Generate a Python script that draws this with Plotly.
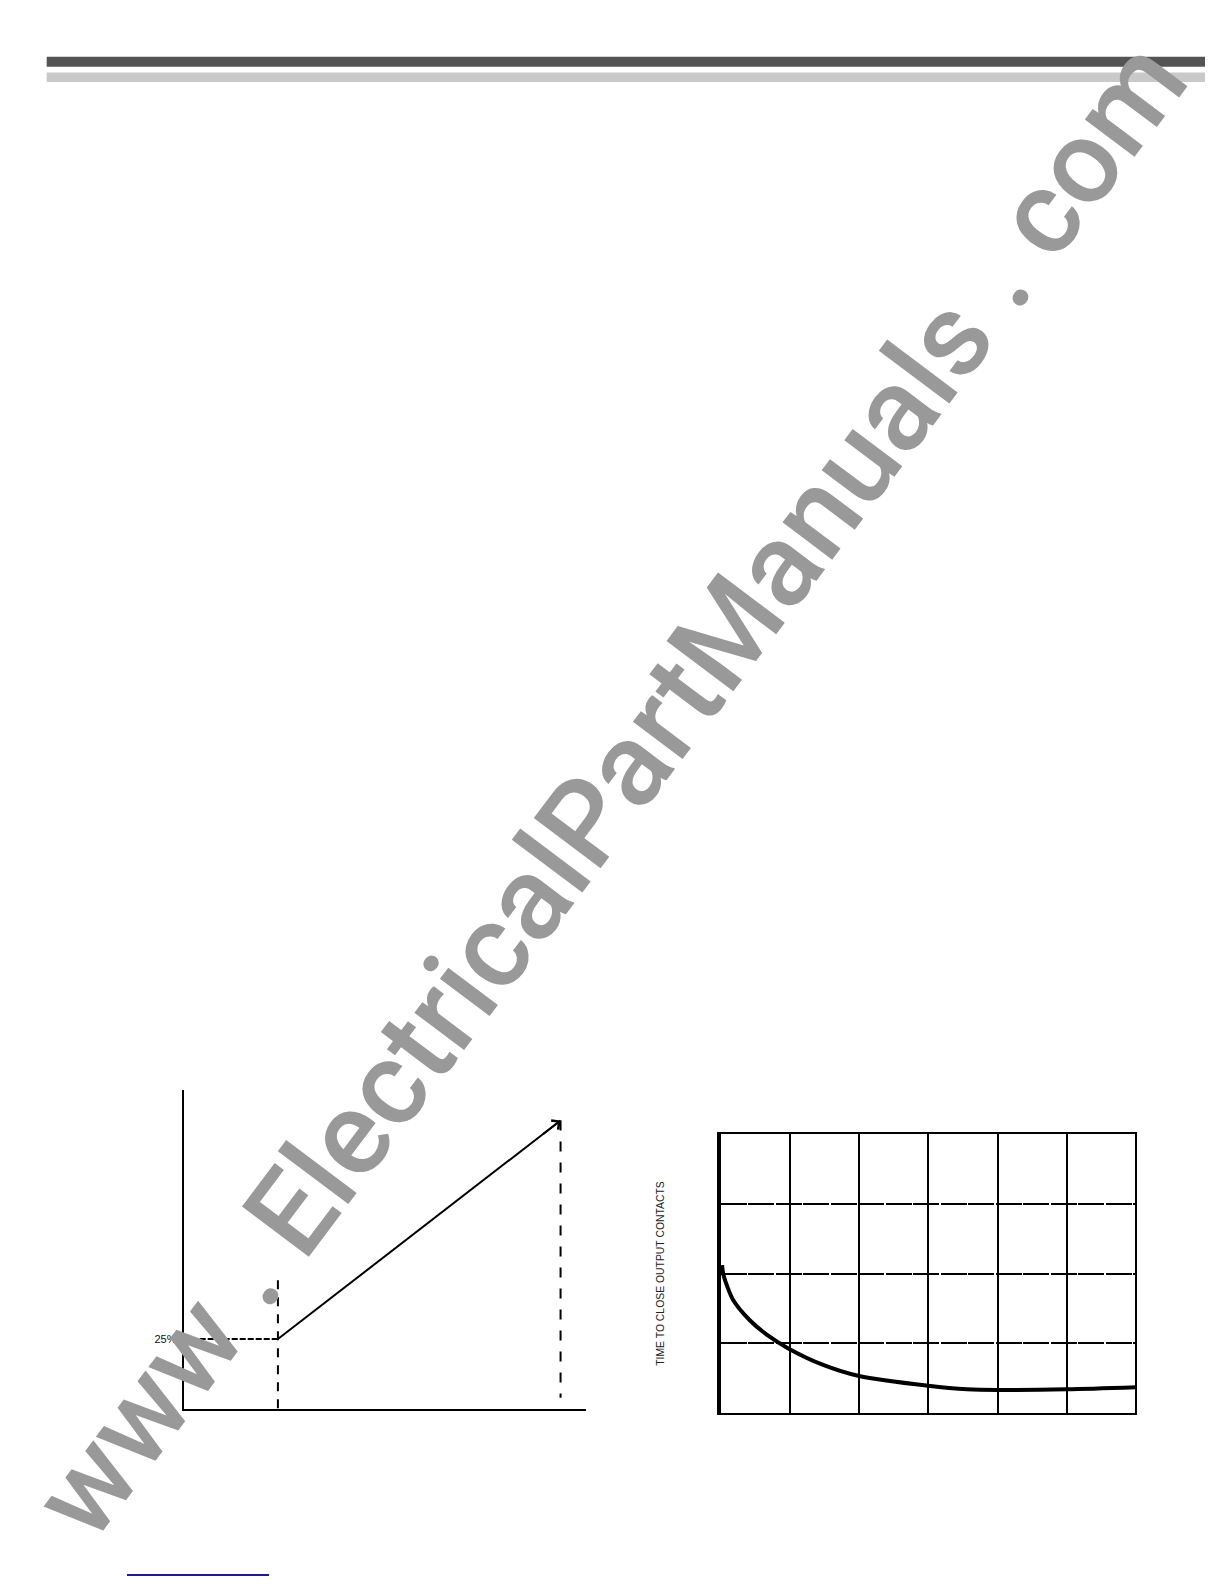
import plotly.graph_objects as go

# ---------------- data ----------------
# Left chart: pickup characteristic (x in multiples of pickup, y in %)
flat_x = [0, 1]
flat_y = [25, 25]
rise_x = [1, 4]
rise_y = [25, 103]
pickup_line_x = [1, 1]
pickup_line_y = [46, 0]
max_line_x = [4, 4]
max_line_y = [103, 4]
left_tick_vals = [25]
left_tick_text = ["25%"]

# Right chart: time to close output contacts (grid units)
curve_x = [0.02, 0.04, 0.18, 0.42, 0.67, 0.97, 1.48, 2.0, 3.0, 3.56, 4.0, 5.0, 6.0]
curve_y = [2.12, 1.98, 1.62, 1.33, 1.12, 0.93, 0.69, 0.53, 0.39, 0.34, 0.33, 0.34, 0.37]
right_y_title = "TIME TO CLOSE OUTPUT CONTACTS"

watermark_text = "www . ElectricalPartManuals . com"

# ---------------- page geometry ----------------
# the html body has an 8px margin, so the figure is drawn 8px in from the page corner
OFF = 8
W, H = 1224 - 2 * OFF, 1584 - 2 * OFF


def px(x):
    return (x - OFF) / W


def py(y):
    return 1 - (y - OFF) / H


fig = go.Figure()

# left chart traces
fig.add_trace(go.Scatter(x=flat_x, y=flat_y, mode="lines",
                         line=dict(color="black", width=2, dash="6px,2px"),
                         xaxis="x", yaxis="y", hoverinfo="skip"))
fig.add_trace(go.Scatter(x=rise_x, y=rise_y, mode="lines",
                         line=dict(color="black", width=2),
                         xaxis="x", yaxis="y", hoverinfo="skip"))
fig.add_trace(go.Scatter(x=pickup_line_x, y=pickup_line_y, mode="lines",
                         line=dict(color="black", width=2, dash="9px,8px"),
                         xaxis="x", yaxis="y", hoverinfo="skip"))
fig.add_trace(go.Scatter(x=max_line_x, y=max_line_y, mode="lines",
                         line=dict(color="black", width=2, dash="10px,11px"),
                         xaxis="x", yaxis="y", hoverinfo="skip"))

# right chart curve
fig.add_trace(go.Scatter(x=curve_x, y=curve_y, mode="lines",
                         line=dict(color="black", width=4, shape="spline", smoothing=0.8),
                         xaxis="x2", yaxis="y2", hoverinfo="skip"))

# arrowhead at end of rising line
fig.add_annotation(x=rise_x[-1], y=rise_y[-1], xref="x", yref="y",
                   ax=rise_x[-1] - 0.2,
                   ay=rise_y[-1] - 0.2 * (rise_y[-1] - rise_y[0]) / (rise_x[-1] - rise_x[0]),
                   axref="x", ayref="y", text="", showarrow=True,
                   arrowhead=4, arrowsize=1.1, arrowwidth=2, arrowcolor="black",
                   standoff=0, startstandoff=0)

font_family = "Liberation Sans, Arial, Helvetica, sans-serif"

# right chart: 6 x 4 grid, 69.22 px per column; range a hair past 6 so the last gridline shows
x2_max = 6.02
col_px = (1136 - 720.7) / 6

fig.update_layout(
    width=W, height=H,
    margin=dict(l=0, r=0, t=0, b=0),
    paper_bgcolor="white", plot_bgcolor="rgba(0,0,0,0)",
    showlegend=False,
    font=dict(family=font_family, color="black"),
    xaxis=dict(domain=[px(183.7), px(586)], range=[0, 4.27],
               showline=True, linecolor="black", linewidth=2,
               showgrid=False, zeroline=False, showticklabels=False, ticks="",
               fixedrange=True),
    yaxis=dict(domain=[py(1409), py(1090)], range=[0, 113.9],
               showline=True, linecolor="black", linewidth=2,
               showgrid=False, zeroline=False, ticks="",
               tickvals=left_tick_vals, ticktext=left_tick_text,
               ticklabelstandoff=3,
               tickfont=dict(size=11, color="#111"),
               fixedrange=True),
    xaxis2=dict(domain=[px(720.7), px(720.7 + x2_max * col_px)], range=[0, x2_max], anchor="y2",
                showline=True, mirror=True, linecolor="black", linewidth=2,
                showgrid=True, gridcolor="black", gridwidth=2,
                tick0=0, dtick=1, zeroline=False,
                showticklabels=False, ticks="", fixedrange=True),
    yaxis2=dict(domain=[py(1413), py(1134)], range=[0, 4], anchor="x2",
                showline=True, linecolor="black", linewidth=4,
                showgrid=True, gridcolor="black", gridwidth=2, griddash="26px,1.5px",
                tick0=0, dtick=1, zeroline=False,
                showticklabels=False, ticks="", fixedrange=True,
                title=dict(text=right_y_title, standoff=51,
                           font=dict(size=10.4, color="#222"))),
)

# header bars
fig.add_shape(type="rect", xref="paper", yref="paper",
              x0=px(46.7), x1=px(1205), y0=py(66.7), y1=py(56.7),
              fillcolor="#545454", line=dict(width=0), layer="below")
fig.add_shape(type="rect", xref="paper", yref="paper",
              x0=px(46.7), x1=px(1205), y0=py(82), y1=py(72.5),
              fillcolor="#c9c9c9", line=dict(width=0), layer="below")

# blue rule at bottom
fig.add_shape(type="line", xref="paper", yref="paper",
              x0=px(127), x1=px(269), y0=py(1575), y1=py(1575),
              line=dict(color="#1c1c8c", width=2))

# watermark
fig.add_annotation(x=px(610), y=py(789), xref="paper", yref="paper",
                   text=watermark_text, showarrow=False, textangle=-53.1,
                   xanchor="center", yanchor="middle",
                   font=dict(family="Roboto, Liberation Sans, sans-serif", size=117.5,
                             weight=500, color="#999999"))

fig.write_html("out.html")
